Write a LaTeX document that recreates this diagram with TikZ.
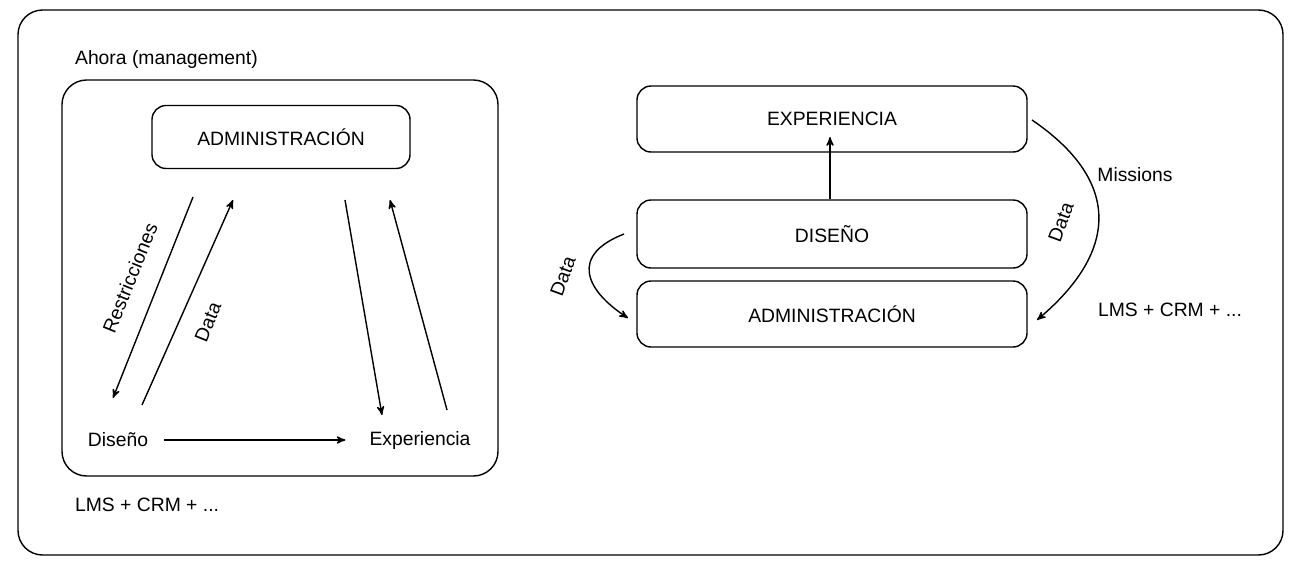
\documentclass[tikz,border=0pt]{standalone}
\usepackage{fontspec}
\setmainfont{Liberation Sans}
\usetikzlibrary{positioning, calc, arrows}
\begin{document}
\begin{tikzpicture}[x=0.02cm, y=-0.02cm, font=\fontsize{11}{13}\selectfont]
\tikzset{
  box/.style={draw, thick, rounded corners=8pt, align=center},
  lbl/.style={inner sep=1pt},
  arr/.style={->, thick, >=stealth'},
}
\useasboundingbox (0,0) rectangle (1293,565);
% frames
\node [box, minimum width=1265*0.02cm, minimum height=545*0.02cm, rounded corners=14pt] (outer) at (650.5,282.5) {};
\node [box, minimum width=436*0.02cm, minimum height=396*0.02cm, rounded corners=14pt] (now) at (280,278) {};
\node [lbl, anchor=west] (nowt) at (73,60) {Ahora (management)};
\node [lbl, anchor=west] (lmsl) at (73,505) {LMS + CRM + ...};
% left triangle
\node [box, minimum width=258*0.02cm, minimum height=63*0.02cm] (adm) at (281,137) {ADMINISTRACIÓN};
\node [lbl] (dis) at (118,440) {Diseño};
\node [lbl] (exp) at (420,440) {Experiencia};
\coordinate (r1) at (193,197); \coordinate (r2) at (113,398);
\coordinate (d1) at (142,405); \coordinate (d2) at (233,200);
\coordinate (e1) at (345,200); \coordinate (e2) at (382,415);
\coordinate (f1) at (447,410); \coordinate (f2) at (390,200);
\draw[arr] (r1) -- (r2);
\node [lbl, rotate=68] (restl) at (130,278) {Restricciones};
\draw[arr] (d1) -- (d2);
\node [lbl, rotate=68] (datal1) at (208,322) {Data};
\draw[arr] (e1) -- (e2);
\draw[arr] (f1) -- (f2);
\draw[arr] (dis.east) ++(14,0) coordinate (ds) (ds) -- ($(exp.west)+(-22,0)$);
% right stack
\node [box, minimum width=390*0.02cm, minimum height=66*0.02cm] (exp2) at (832,119) {EXPERIENCIA};
\node [box, minimum width=390*0.02cm, minimum height=68*0.02cm] (dis2) at (832,234) {DISEÑO};
\node [box, minimum width=390*0.02cm, minimum height=66*0.02cm] (adm2) at (832,314) {ADMINISTRACIÓN};
\draw[arr] (dis2.north -| 830,0) -- (830,137);
\coordinate (cl1) at (624,234); \coordinate (cl2) at (628,318);
\draw[arr] (cl1) .. controls (570,255) and (585,290) .. (cl2);
\node [lbl, rotate=70] (datal) at (563,276) {Data};
\coordinate (cr1) at (1032,120); \coordinate (cr2) at (1037,320);
\draw[arr] (cr1) .. controls (1120,180) and (1120,250) .. (cr2);
\node [lbl, rotate=70] (datar) at (1061,222) {Data};
\node [lbl] (mis) at (1135,175) {Missions};
\node [lbl] (lms2) at (1170,310) {LMS + CRM + ...};
\end{tikzpicture}
\end{document}
